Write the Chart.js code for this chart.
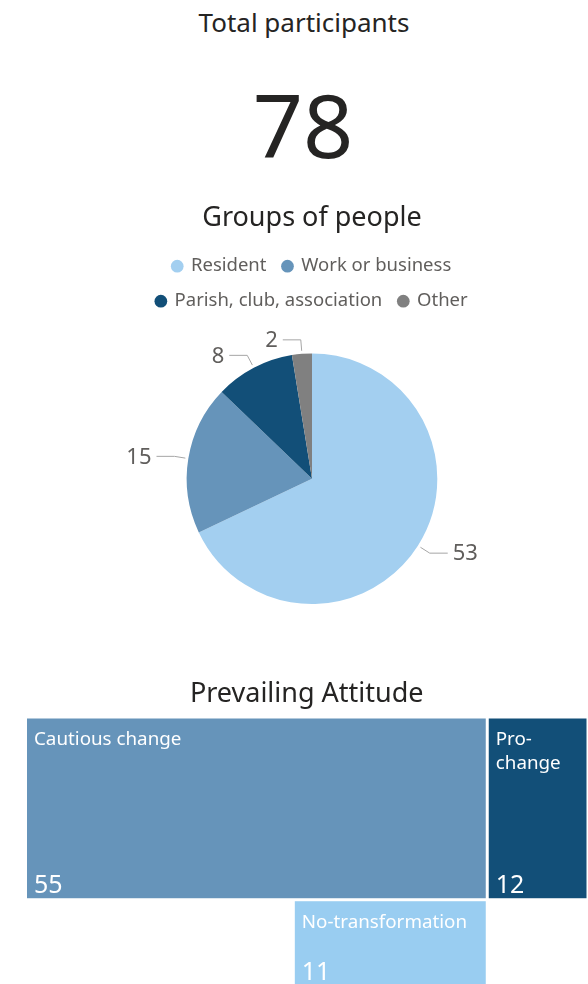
<!DOCTYPE html>
<html>
<head>
<meta charset="utf-8">
<script src="https://cdn.jsdelivr.net/npm/chart.js@4.4.1/dist/chart.umd.min.js"></script>
<style>
  body { margin: 0; width: 588px; height: 984px; overflow: hidden; background: #fff;
         font-family: 'Noto Sans', sans-serif; color: #252423; }
  .card-title { position: absolute; top: 4px; left: 0; width: 608px; text-align: center;
                font-size: 26px; line-height: 36px; }
  .card-value { position: absolute; top: 80px; left: 0; width: 606px; text-align: center;
                font-size: 88px; line-height: 88px; }
  #pie { position: absolute; top: 194px; left: 0; }
  #tree { position: absolute; top: 662px; left: 0; }
</style>
</head>
<body>
<div class="card-title">Total participants</div>
<div class="card-value" id="total"></div>
<canvas id="pie" width="588" height="420"></canvas>
<canvas id="tree" width="588" height="322"></canvas>
<script>
const groupLabels = ['Resident', 'Work or business', 'Parish, club, association', 'Other'];
const groupCounts = [53, 15, 8, 2];
const groupColors = ['#A3CFF0', '#6694BA', '#124F78', '#808080'];

const attitudeLabels = ['Cautious change', 'Pro-change', 'No-transformation'];
const attitudeCounts = [55, 12, 11];
const attitudeColors = ['#6694BA', '#124F78', '#99CDF1'];

const FONT = "'Noto Sans', sans-serif";

document.getElementById('total').textContent = groupCounts.reduce((a, b) => a + b, 0);

// push the pie down below the legend
const legendGap = {
  id: 'legendGap',
  beforeInit(chart) {
    const fit = chart.legend.fit;
    chart.legend.fit = function () { fit.call(this); this.height += 33; };
  }
};

// outside labels with elbow leader lines
const sliceLabels = {
  id: 'sliceLabels',
  afterDatasetsDraw(chart) {
    const ctx = chart.ctx;
    const values = chart.data.datasets[0].data;
    ctx.save();
    ctx.strokeStyle = '#A6A6A6';
    ctx.lineWidth = 1;
    ctx.fillStyle = '#605E5C';
    ctx.font = '22px ' + FONT;
    ctx.textBaseline = 'middle';
    chart.getDatasetMeta(0).data.forEach((arc, i) => {
      const mid = (arc.startAngle + arc.endAngle) / 2;
      const r = arc.outerRadius;
      const c = Math.cos(mid), s = Math.sin(mid);
      const x0 = arc.x + c * (r + 3), y0 = arc.y + s * (r + 3);
      const x1 = arc.x + c * (r + 14), y1 = arc.y + s * (r + 14);
      const dir = c >= 0 ? 1 : -1;
      const x2 = x1 + dir * 18;
      ctx.beginPath();
      ctx.moveTo(x0, y0);
      ctx.lineTo(x1, y1);
      ctx.lineTo(x2, y1);
      ctx.stroke();
      ctx.textAlign = dir > 0 ? 'left' : 'right';
      ctx.fillText(String(values[i]), x2 + dir * 5, y1 + 1);
    });
    ctx.restore();
  }
};

new Chart(document.getElementById('pie'), {
  type: 'pie',
  data: {
    labels: groupLabels,
    datasets: [{ data: groupCounts, backgroundColor: groupColors, borderWidth: 0 }]
  },
  options: {
    responsive: false,
    animation: false,
    layout: { padding: { left: 102, right: 66, bottom: 10 } },
    plugins: {
      title: { display: true, text: 'Groups of people', color: '#252423',
               font: { size: 27, family: FONT, weight: 'normal' }, padding: { top: 8, bottom: 6 } },
      legend: {
        position: 'top',
        labels: { usePointStyle: true, pointStyle: 'circle', boxWidth: 9, boxHeight: 9,
                  color: '#605E5C', font: { size: 18.5, family: FONT }, padding: 16.5 }
      },
      tooltip: { enabled: false }
    }
  },
  plugins: [legendGap, sliceLabels]
});

// treemap: tile sizes in px-like units, area proportional to count
const areaPerPerson = 1530;
const plotWidth = 561;
const plotHeight = 267;

function layoutTiles(counts) {
  const rowSum = counts[0] + counts[1];
  const rowH = rowSum * areaPerPerson / plotWidth;
  const w0 = plotWidth * counts[0] / rowSum;
  const w2 = w0 * 0.42;
  return [
    { x0: 0, x1: w0, y0: 0, y1: rowH },
    { x0: w0, x1: plotWidth, y0: 0, y1: rowH },
    { x0: w0 - w2, x1: w0, y0: rowH, y1: rowH + counts[2] * areaPerPerson / w2 }
  ];
}
const tiles = layoutTiles(attitudeCounts);

function wrapText(ctx, text, maxW) {
  if (ctx.measureText(text).width <= maxW) return [text];
  const parts = text.match(/[^\s-]+-?/g);
  const lines = [];
  let cur = '';
  parts.forEach(p => {
    const test = cur ? (cur.endsWith('-') ? cur + p : cur + ' ' + p) : p;
    if (cur && ctx.measureText(test).width > maxW) { lines.push(cur); cur = p; }
    else cur = test;
  });
  if (cur) lines.push(cur);
  return lines;
}

const treemapTiles = {
  id: 'treemapTiles',
  afterDatasetsDraw(chart) {
    const { ctx, chartArea, scales: { x, y } } = chart;
    ctx.save();
    ctx.beginPath();
    ctx.rect(chartArea.left, chartArea.top, chartArea.width, chartArea.height);
    ctx.clip();
    tiles.forEach((t, i) => {
      const left = x.getPixelForValue(t.x0) + 1.5;
      const right = x.getPixelForValue(t.x1) - 1.5;
      const top = y.getPixelForValue(t.y0) + 1.5;
      const bottom = y.getPixelForValue(t.y1) - 1.5;
      ctx.fillStyle = attitudeColors[i];
      ctx.fillRect(left, top, right - left, bottom - top);
      ctx.save();
      ctx.beginPath();
      ctx.rect(left, top, right - left, bottom - top);
      ctx.clip();
      ctx.fillStyle = '#FFFFFF';
      ctx.textAlign = 'left';
      ctx.textBaseline = 'middle';
      ctx.font = '18.8px ' + FONT;
      const lines = wrapText(ctx, attitudeLabels[i], right - left - 16);
      lines.forEach((ln, k) => ctx.fillText(ln, left + 7, top + 21 + k * 24));
      ctx.font = '25px ' + FONT;
      ctx.textBaseline = 'alphabetic';
      ctx.fillText(String(attitudeCounts[i]), left + 7, bottom - 5);
      ctx.restore();
    });
    ctx.restore();
  }
};

new Chart(document.getElementById('tree'), {
  type: 'scatter',
  data: {
    datasets: [{
      data: tiles.map(t => ({ x: (t.x0 + t.x1) / 2, y: (t.y0 + t.y1) / 2 })),
      pointRadius: 0
    }]
  },
  options: {
    responsive: false,
    animation: false,
    layout: { padding: { left: 25.5, right: 0, bottom: 0 } },
    scales: {
      x: { display: false, min: 0, max: plotWidth },
      y: { display: false, min: 0, max: plotHeight, reverse: true }
    },
    plugins: {
      title: { display: true, text: 'Prevailing Attitude', color: '#252423',
               font: { size: 27, family: FONT, weight: 'normal' }, padding: { top: 16, bottom: 6.6 } },
      legend: { display: false },
      tooltip: { enabled: false }
    }
  },
  plugins: [treemapTiles]
});
</script>
</body>
</html>
